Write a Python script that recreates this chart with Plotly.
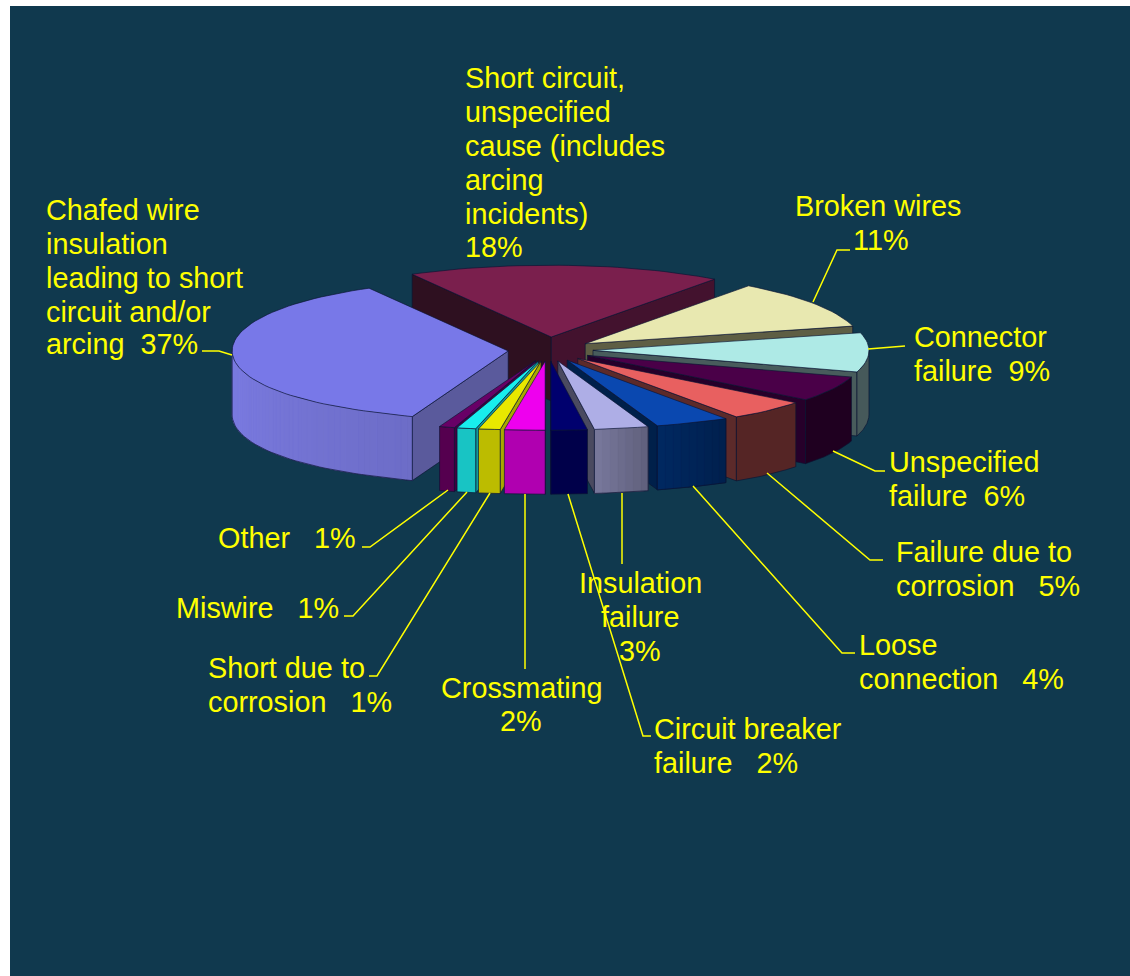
import math
import plotly.graph_objects as go

# Wire-fault shares, clockwise from the rear slice
categories = ["Short circuit, unspecified cause (includes arcing incidents)",
              "Broken wires", "Connector failure", "Unspecified failure",
              "Failure due to corrosion", "Loose connection", "Insulation failure",
              "Circuit breaker failure", "Crossmating", "Short due to corrosion",
              "Miswire", "Other", "Chafed wire insulation leading to short circuit and/or arcing"]
values = [18, 11, 9, 6, 5, 4, 3, 2, 2, 1, 1, 1, 37]

# How far each slice is pulled out of the pie
explode = [52, 45, 45, 45, 45, 45, 45, 45, 45, 45, 45, 45, 40]

top_colors = ["#7a1f4d", "#e8e8b0", "#aeeae6", "#4a0048", "#e86060", "#0a48b0", "#aeaee6",
              "#00006e", "#ee00ee", "#e8e800", "#18eeee", "#680066", "#7878e8"]
wall_colors = ["#43122e", "#5e5e44", "#46595a", "#1f0020", "#552525", "#002457", "#6c6c8c",
               "#00004a", "#b000b0", "#bcbc00", "#18c4c4", "#55004f", "#7676d8"]
cut_colors = ["#43122e", "#5e5e44", "#485c5c", "#26002a", "#5c2a2a", "#00204a", "#4a4a60",
              "#00004a", "#a000a0", "#a8a800", "#109c9c", "#400040", "#5a5a9c"]
rear_left_cut = "#2e1020"

START_ANGLE = -28.8
CX, CY = 548.0, 350.0
RX, SQUASH, RIM_SQUASH = 276.0, 0.25, 0.255
DEPTH = 64.0
BG = "#10394e"
TEXT = "#ffff00"
FONT = "Liberation Sans"
FONT_SIZE = 28.8
EDGE = "rgba(10,20,50,0.65)"


def project(theta_deg, radius, apex):
    """Screen position of a point on a slice's top face, with a slight perspective."""
    t = math.radians(theta_deg)
    c, s = math.cos(t), math.sin(t)
    bulge = 0.01 if (c > 0 and s > 0) else 0.06
    # Perspective widens the part of the rim nearest the viewer
    widen = (0.15 * math.exp(-((theta_deg - 191) / 8) ** 2)
             + 0.03 * math.exp(-((theta_deg - 148) / 10) ** 2))
    return (apex[0] + radius * (1 + bulge * c * c + widen) * s,
            apex[1] - radius * RIM_SQUASH * c * (1 + 0.02 * c))


def down(p):
    return (p[0], p[1] + DEPTH)


def shade(color, f):
    r, g, b = (int(color[i:i + 2], 16) for i in (1, 3, 5))
    return "#%02x%02x%02x" % tuple(min(255, max(0, round(c * f))) for c in (r, g, b))


fig = go.Figure()


def polygon(pts, fill, line=None, width=1.0):
    xs = [p[0] for p in pts] + [pts[0][0]]
    ys = [p[1] for p in pts] + [pts[0][1]]
    fig.add_trace(go.Scatter(x=xs, y=ys, mode="lines", fill="toself", fillcolor=fill,
                             line=dict(color=line or fill, width=width),
                             hoverinfo="skip", showlegend=False))


def polyline(pts, color, width):
    fig.add_trace(go.Scatter(x=[p[0] for p in pts], y=[p[1] for p in pts], mode="lines",
                             line=dict(color=color, width=width),
                             hoverinfo="skip", showlegend=False))


# Slice geometry follows from the values
slices = []
angle = START_ANGLE
for i, v in enumerate(values):
    sweep = v * 3.6
    m = math.radians(angle + sweep / 2)
    slices.append(dict(i=i, a0=angle, a1=angle + sweep, mid=m,
                       apex=(CX + explode[i] * math.sin(m),
                             CY - explode[i] * SQUASH * math.cos(m))))
    angle += sweep

# Painter's order: rear slices first
for s in sorted(slices, key=lambda d: -math.cos(d["mid"])):
    i, a0, a1, apex = s["i"], s["a0"], s["a1"], s["apex"]

    # Cut faces turned towards the viewer
    for edge_angle, normal in ((a0, a0 - 90), (a1, a1 + 90)):
        if math.cos(math.radians(normal)) < 0.001:
            rim = project(edge_angle, RX, apex)
            face = rear_left_cut if (i == 0 and edge_angle == a0) else cut_colors[i]
            polygon([apex, rim, down(rim), down(apex)], face, EDGE)

    # Rim wall: a base shape, then shaded strips along the arc
    lo, hi = max(a0, 90.0), min(a1, 270.0)
    if a0 >= 0 and hi > lo:
        full = [project(lo + (hi - lo) * q / 40, RX, apex) for q in range(41)]
        polygon(full + [down(p) for p in reversed(full)], wall_colors[i], EDGE)
        if i in (5, 6, 12):
            low, span = (0.92, 0.14) if i == 12 else (0.88, 0.24)
            n = max(2, int((hi - lo) / 1.5))
            for k in range(n):
                t0 = lo + (hi - lo) * k / n
                t1 = lo + (hi - lo) * (k + 1) / n
                col = shade(wall_colors[i], low + span * (k + 0.5) / n)
                arc = [project(t0, RX, apex), project(t1, RX, apex)]
                polygon(arc + [down(p) for p in reversed(arc)], col, col, 0.3)
            polyline(full[:1] + [down(p) for p in full] + full[-1:], EDGE, 1)

    # Top face
    n = max(4, int((a1 - a0) / 2))
    rim = [project(a0 + (a1 - a0) * q / n, RX, apex) for q in range(n + 1)]
    polygon([apex] + rim, top_colors[i], EDGE)

# Leader lines from the slices to their labels
leaders = [
    [(202, 351), (219, 351), (232, 355)],
    [(813, 302), (837, 250), (850, 250)],
    [(868, 349), (905, 346)],
    [(833, 451), (875, 471), (885, 471)],
    [(767, 473), (870, 560), (883, 560)],
    [(693, 486), (842, 653), (855, 653)],
    [(622, 493), (622, 564)],
    [(568, 494), (643, 736), (651, 736)],
    [(525, 494), (525, 669)],
    [(490, 493), (377, 676), (369, 676)],
    [(467, 492), (353, 616), (344, 616)],
    [(448, 490), (370, 547), (362, 547)],
]
for seg in leaders:
    polyline(seg, TEXT, 1.5)

NB = "\u00a0"


def pct(i):
    return f"{values[i]}%"


# (text, x, y, anchor) for every label line
label_lines = [
    ("Short circuit,", 465, 78, "left"), ("unspecified", 465, 112, "left"),
    ("cause (includes", 465, 146, "left"), ("arcing", 465, 180, "left"),
    ("incidents)", 465, 214, "left"), (pct(0), 465, 247, "left"),
    ("Broken wires", 795, 206, "left"), (pct(1), 853, 240, "left"),
    ("Connector", 914, 337, "left"), (f"failure{NB}{NB}{pct(2)}", 914, 371, "left"),
    ("Unspecified", 889, 462, "left"), (f"failure{NB}{NB}{pct(3)}", 889, 496, "left"),
    ("Failure due to", 896, 552, "left"), (f"corrosion{NB}{NB}{NB}{pct(4)}", 896, 586, "left"),
    ("Loose", 859, 645, "left"), (f"connection{NB}{NB}{NB}{pct(5)}", 859, 679, "left"),
    ("Insulation", 640, 583, "center"), ("failure", 640, 617, "center"), (pct(6), 640, 651, "center"),
    ("Circuit breaker", 654, 729, "left"), (f"failure{NB}{NB}{NB}{pct(7)}", 654, 763, "left"),
    ("Crossmating", 522, 688, "center"), (pct(8), 521, 721, "center"),
    ("Short due to", 208, 668, "left"), (f"corrosion{NB}{NB}{NB}{pct(9)}", 208, 702, "left"),
    (f"Miswire{NB}{NB}{NB}{pct(10)}", 176, 608, "left"),
    (f"Other{NB}{NB}{NB}{pct(11)}", 218, 538, "left"),
    ("Chafed wire", 46, 210, "left"), ("insulation", 46, 244, "left"),
    ("leading to short", 46, 278, "left"), ("circuit and/or", 46, 312, "left"),
    (f"arcing{NB}{NB}{pct(12)}", 46, 344, "left"),
]
for text, x, y, anchor in label_lines:
    fig.add_annotation(x=x, y=y, text=text, showarrow=False, xanchor=anchor, yanchor="middle",
                       xref="x", yref="y", align=anchor,
                       font=dict(family=FONT, size=FONT_SIZE, color=TEXT),
                       borderpad=0, borderwidth=0)

fig.add_shape(type="rect", x0=10, x1=1130, y0=6, y1=976, xref="x", yref="y",
              fillcolor=BG, line=dict(width=0), layer="below")

fig.update_layout(width=1130, height=976, margin=dict(l=0, r=0, t=0, b=0),
                  paper_bgcolor="white", plot_bgcolor="white", showlegend=False,
                  xaxis=dict(range=[0, 1130], visible=False, fixedrange=True),
                  yaxis=dict(range=[976, 0], visible=False, fixedrange=True))

fig.write_html("out.html", config=dict(displayModeBar=False))
